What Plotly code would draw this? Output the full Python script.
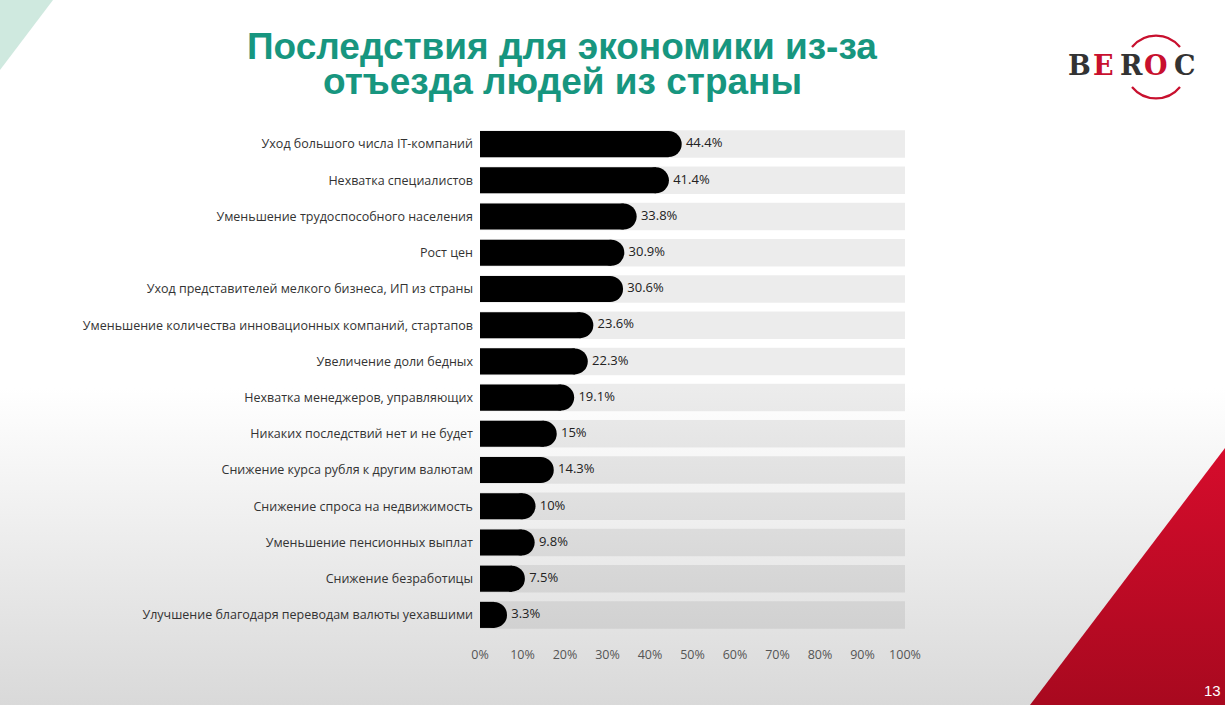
import base64
import plotly.graph_objects as go

categories = [
    "Уход большого числа IT-компаний",
    "Нехватка специалистов",
    "Уменьшение трудоспособного населения",
    "Рост цен",
    "Уход представителей мелкого бизнеса, ИП из страны",
    "Уменьшение количества инновационных компаний, стартапов",
    "Увеличение доли бедных",
    "Нехватка менеджеров, управляющих",
    "Никаких последствий нет и не будет",
    "Снижение курса рубля к другим валютам",
    "Снижение спроса на недвижимость",
    "Уменьшение пенсионных выплат",
    "Снижение безработицы",
    "Улучшение благодаря переводам валюты уехавшими",
]
values = [44.4, 41.4, 33.8, 30.9, 30.6, 23.6, 22.3, 19.1, 15, 14.3, 10, 9.8, 7.5, 3.3]
value_labels = ["44.4%", "41.4%", "33.8%", "30.9%", "30.6%", "23.6%", "22.3%",
                "19.1%", "15%", "14.3%", "10%", "9.8%", "7.5%", "3.3%"]
track = [100] * len(categories)
x_ticks = list(range(0, 101, 10))
x_tick_labels = [f"{t}%" for t in x_ticks]

W, H = 1225, 705
L, R = 480, 905
T, B = 126, 633

cx, cy, rr = 1156, 67, 31
svg = f'''<svg xmlns="http://www.w3.org/2000/svg" width="{W}" height="{H}" viewBox="0 0 {W} {H}">
<defs>
<linearGradient id="bg" x1="0" y1="0" x2="0" y2="1">
<stop offset="0" stop-color="#ffffff"/>
<stop offset="0.55" stop-color="#ffffff"/>
<stop offset="1" stop-color="#d9d9d9"/>
</linearGradient>
<linearGradient id="red" x1="0" y1="0" x2="0" y2="1">
<stop offset="0" stop-color="#d60c2c"/>
<stop offset="1" stop-color="#a8091f"/>
</linearGradient>
</defs>
<rect x="0" y="0" width="{W}" height="{H}" fill="url(#bg)"/>
<polygon points="0,0 53,0 0,70" fill="#cfe9df"/>
<polygon points="1225,448 1225,705 1030,705" fill="url(#red)"/>
<path d="M {cx-24} {cy-20} A {rr} {rr} 0 0 1 {cx+24} {cy-20}" fill="none" stroke="#c8102e" stroke-width="2.2"/>
<path d="M {cx-24} {cy+20} A {rr} {rr} 0 0 0 {cx+24} {cy+20}" fill="none" stroke="#c8102e" stroke-width="2.2"/>
</svg>'''
src = "data:image/svg+xml;base64," + base64.b64encode(svg.encode()).decode()

pw, ph = R - L, B - T

fig = go.Figure()
# background tracks (0-100%)
fig.add_trace(go.Bar(
    y=categories, x=track, orientation="h", width=0.76, yaxis="y",
    marker=dict(color="rgba(0,0,0,0.075)", line=dict(width=0)),
    hoverinfo="skip", showlegend=False,
))
# value bars
fig.add_trace(go.Bar(
    y=categories, x=values, orientation="h", width=0.72, yaxis="y2",
    marker=dict(color="#000000", line=dict(width=0)),
    hovertemplate="%{y}: %{x}%<extra></extra>", showlegend=False,
))
# rounded caps + value labels
fig.add_trace(go.Scatter(
    y=categories, x=values, yaxis="y2", mode="markers+text",
    marker=dict(symbol="circle", size=26, color="#000000", line=dict(width=0)),
    text=value_labels, textposition="middle right", cliponaxis=False,
    textfont=dict(family="Open Sans", size=13, color="#222222"),
    hoverinfo="skip", showlegend=False,
))

n = len(categories)
yax_common = dict(range=[n - 0.5, -0.5], autorange=False, showgrid=False, zeroline=False,
                  showline=False, ticks="", fixedrange=True,
                  categoryorder="array", categoryarray=categories)
fig.update_layout(
    width=W, height=H,
    margin=dict(l=L, r=W - R, t=T, b=H - B),
    barmode="group",
    paper_bgcolor="#ffffff",
    plot_bgcolor="rgba(0,0,0,0)",
    xaxis=dict(range=[0, 100], tickvals=x_ticks, ticktext=x_tick_labels,
               showgrid=False, zeroline=False, showline=False, ticks="",
               tickfont=dict(family="Open Sans", size=12.5, color="#555555"),
               ticklabelstandoff=12, fixedrange=True),
    yaxis=dict(**yax_common, tickfont=dict(family="Open Sans", size=12.5, color="#333333"),
               ticklabelstandoff=6),
    yaxis2=dict(**yax_common, overlaying="y", side="left", showticklabels=False),
    images=[dict(source=src, xref="paper", yref="paper",
                 x=-L / pw, y=B / ph, sizex=W / pw, sizey=H / ph,
                 xanchor="left", yanchor="top", sizing="stretch", layer="below")],
)

def px(x):
    return (x - L) / pw

def py(y):
    return (B - y) / ph

annotations = [
    dict(text="<b>Последствия для экономики из-за</b>",
         x=px(562), y=py(46), xref="paper", yref="paper", showarrow=False,
         font=dict(family="Liberation Sans", size=37, color="#17967f"),
         xanchor="center", yanchor="middle"),
    dict(text="<b>отъезда людей из страны</b>",
         x=px(562), y=py(81), xref="paper", yref="paper", showarrow=False,
         font=dict(family="Liberation Sans", size=37, color="#17967f"),
         xanchor="center", yanchor="middle"),
    dict(text="13", x=px(1212), y=py(690), xref="paper", yref="paper", showarrow=False,
         font=dict(family="Liberation Sans", size=15, color="#ffffff"),
         xanchor="center", yanchor="middle"),
]
logo = [("B", 1079, "#333333"), ("E", 1103, "#c8102e"), ("R", 1131, "#333333"),
        ("O", 1156, "#c8102e"), ("C", 1185, "#333333")]
for ch, lx, col in logo:
    annotations.append(dict(text=f"<b>{ch}</b>", x=px(lx), y=py(65), xref="paper", yref="paper",
                            showarrow=False, xanchor="center", yanchor="middle",
                            font=dict(family="DejaVu Serif", size=27, color=col)))
fig.update_layout(annotations=annotations)

fig.write_html("out.html", config={"displayModeBar": False},
               post_script="document.body.style.margin='0';document.body.style.overflow='hidden';")
